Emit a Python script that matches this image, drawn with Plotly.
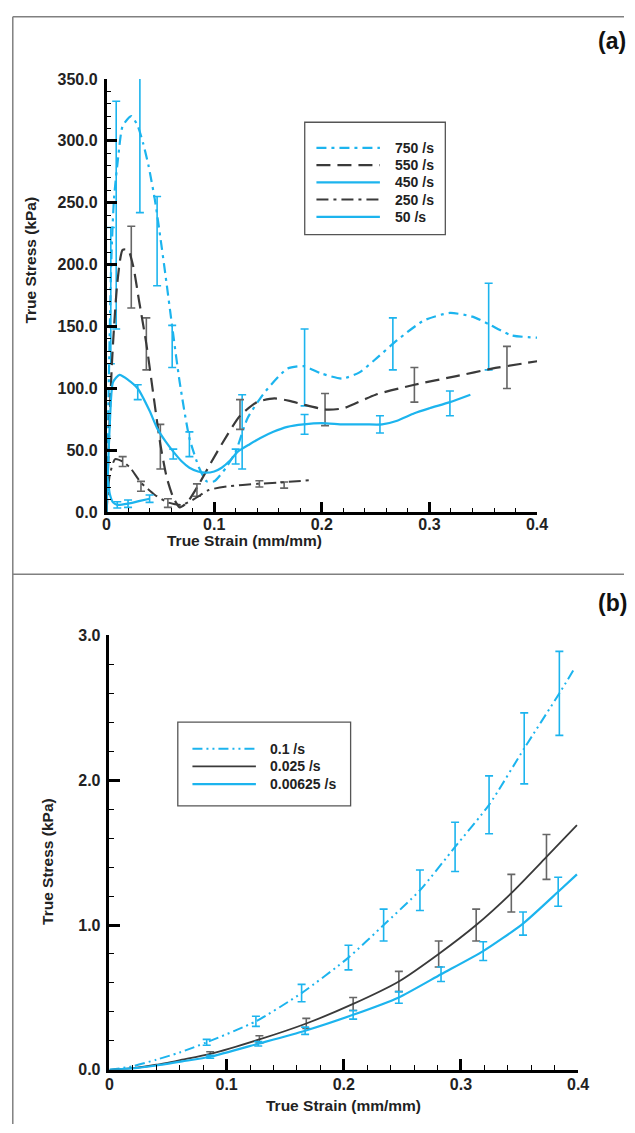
import plotly.graph_objects as go

W, H = 635, 1133
CYAN = "#1cb4ee"
DARK = "#3a3a3a"
EBAR = "#666666"

# ---------------- Panel (a) data ----------------
x750 = [0, 0.0045, 0.007, 0.011, 0.015, 0.023, 0.029, 0.034, 0.039, 0.045, 0.05, 0.055, 0.061, 0.068, 0.077,
        0.086, 0.093, 0.1, 0.111, 0.12, 0.131, 0.147, 0.168, 0.183, 0.2, 0.219, 0.235, 0.249, 0.27, 0.295,
        0.319, 0.34, 0.355, 0.376, 0.4]
y750 = [0, 205, 254, 288, 312, 320, 312, 298, 280, 252, 222, 190, 150, 105, 60,
        36, 25, 25, 36, 49, 76, 97, 116, 118, 112, 108, 113, 123, 139, 155,
        161, 158, 152, 143, 141]
bx750 = [0.004, 0.009, 0.031, 0.047, 0.061, 0.077, 0.126, 0.184, 0.266, 0.355]
by750 = [175, 240, 297, 219, 134, 55, 65, 117, 136, 150]
be750 = [55, 92, 55, 36, 17, 10, 30, 31, 21, 35]

x550 = [0, 0.005, 0.01, 0.015, 0.02, 0.025, 0.03, 0.037, 0.044, 0.05, 0.056, 0.062, 0.068, 0.075, 0.086,
        0.097, 0.107, 0.124, 0.14, 0.156, 0.17, 0.183, 0.204, 0.22, 0.25, 0.286, 0.325, 0.358, 0.4]
y550 = [0, 120, 185, 212, 212, 198, 172, 136, 92, 55, 28, 12, 4, 8, 23,
        40, 55, 78, 89, 92, 90, 87, 83, 84, 95, 103, 110, 116, 122]
bx550 = [0.023, 0.037, 0.05, 0.124, 0.203, 0.286, 0.372]
by550 = [198, 136, 53, 79, 83, 103, 117]
be550 = [33, 21, 18, 12, 13, 14, 17]

x450 = [0, 0.003, 0.006, 0.012, 0.02, 0.029, 0.04, 0.047, 0.055, 0.062, 0.07, 0.077, 0.085, 0.092, 0.1,
        0.107, 0.115, 0.122, 0.133, 0.143, 0.155, 0.168, 0.183, 0.2, 0.22, 0.24, 0.256, 0.27, 0.286, 0.3,
        0.319, 0.338]
y450 = [0, 70, 105, 111, 107, 100, 82, 68, 57, 49, 41, 36, 33, 32, 33,
        36, 42, 49, 55, 60, 65, 69, 71, 72, 71, 71, 71, 74, 80, 84,
        89, 95]
bx450 = [0.029, 0.062, 0.12, 0.184, 0.254, 0.319]
by450 = [97, 47, 45, 71, 71, 88]
be450 = [6, 4, 6, 8, 7, 10]

x250 = [0, 0.003, 0.008, 0.015, 0.022, 0.032, 0.045, 0.057, 0.07, 0.082, 0.095, 0.113, 0.14, 0.16, 0.19]
y250 = [0, 30, 43, 41, 36, 24, 14, 8, 6, 11, 18, 21, 23, 24, 26]
bx250 = [0.015, 0.032, 0.057, 0.084, 0.142, 0.165]
by250 = [41, 21, 7.5, 18, 23, 22]
be250 = [4, 4, 3.5, 5, 2.5, 2.5]

x50 = [0, 0.001, 0.003, 0.006, 0.01, 0.02, 0.03, 0.04]
y50 = [0, 28, 15, 8, 6, 7, 9, 11]
bx50 = [0.01, 0.02, 0.04]
by50 = [6, 7, 11]
be50 = [2.5, 3, 3]

# ---------------- Panel (b) data ----------------
x01 = [0, 0.02, 0.04, 0.06, 0.083, 0.125, 0.164, 0.204, 0.234, 0.265, 0.295, 0.324, 0.354, 0.384, 0.396]
y01 = [0, 0.025, 0.07, 0.12, 0.19, 0.335, 0.53, 0.775, 1.0, 1.24, 1.54, 1.83, 2.22, 2.6, 2.76]
bx01 = [0.083, 0.125, 0.164, 0.204, 0.234, 0.265, 0.295, 0.324, 0.354, 0.384]
by01 = [0.19, 0.335, 0.53, 0.775, 1.0, 1.24, 1.54, 1.83, 2.22, 2.6]
be01 = [0.02, 0.035, 0.06, 0.085, 0.11, 0.14, 0.17, 0.2, 0.245, 0.29]

x025 = [0, 0.02, 0.04, 0.062, 0.086, 0.128, 0.168, 0.208, 0.247, 0.281, 0.313, 0.343, 0.373, 0.399]
y025 = [0, 0.012, 0.035, 0.07, 0.11, 0.21, 0.32, 0.455, 0.61, 0.80, 1.0, 1.22, 1.47, 1.69]
bx025 = [0.086, 0.128, 0.168, 0.208, 0.247, 0.281, 0.313, 0.343, 0.373]
by025 = [0.11, 0.21, 0.32, 0.455, 0.61, 0.80, 1.0, 1.22, 1.47]
be025 = [0.015, 0.025, 0.035, 0.045, 0.07, 0.09, 0.11, 0.13, 0.155]

x00625 = [0, 0.02, 0.04, 0.062, 0.086, 0.127, 0.167, 0.208, 0.247, 0.283, 0.319, 0.353, 0.383, 0.399]
y00625 = [0, 0.01, 0.03, 0.058, 0.09, 0.18, 0.27, 0.38, 0.50, 0.66, 0.82, 1.01, 1.23, 1.35]
bx00625 = [0.086, 0.127, 0.167, 0.208, 0.247, 0.283, 0.319, 0.353, 0.383]
by00625 = [0.09, 0.18, 0.27, 0.38, 0.50, 0.66, 0.82, 1.01, 1.23]
be00625 = [0.01, 0.015, 0.025, 0.03, 0.04, 0.05, 0.065, 0.08, 0.1]

legend_a = ["750 /s", "550 /s", "450 /s", "250 /s", "50 /s"]
legend_b = ["0.1 /s", "0.025 /s", "0.00625 /s"]

FONT = "Liberation Sans"

fig = go.Figure()


def add_series(x, y, bx, by, be, name, color, dash, width, xa, ya, bar_color):
    fig.add_trace(go.Scatter(x=bx, y=by, mode="markers", marker=dict(size=0.1, color=bar_color, opacity=0),
                             error_y=dict(type="data", array=be, color=bar_color, thickness=1.6, width=4),
                             xaxis=xa, yaxis=ya, showlegend=False, hoverinfo="skip"))
    fig.add_trace(go.Scatter(x=x, y=y, mode="lines", name=name, showlegend=False,
                             line=dict(color=color, dash=dash, width=width, shape="spline", smoothing=0.6),
                             xaxis=xa, yaxis=ya))


styles_a = [(CYAN, "10px,5px,3px,5px", 2.2, CYAN), (DARK, "14px,7px", 2.2, EBAR), (CYAN, "solid", 2.2, CYAN),
            (DARK, "12px,5px,3px,5px", 2.0, EBAR), (CYAN, "solid", 2.2, CYAN)]
series_a = [(x750, y750, bx750, by750, be750), (x550, y550, bx550, by550, be550),
            (x450, y450, bx450, by450, be450), (x250, y250, bx250, by250, be250),
            (x50, y50, bx50, by50, be50)]
for (xs, ys, bxs, bys, bes), name, (c, d, w, bc) in zip(series_a, legend_a, styles_a):
    add_series(xs, ys, bxs, bys, bes, name, c, d, w, "x", "y", bc)

styles_b = [(CYAN, "10px,4px,2px,4px,2px,4px", 2.0, CYAN), (DARK, "solid", 1.8, EBAR), (CYAN, "solid", 2.2, CYAN)]
series_b = [(x01, y01, bx01, by01, be01), (x025, y025, bx025, by025, be025),
            (x00625, y00625, bx00625, by00625, be00625)]
for (xs, ys, bxs, bys, bes), name, (c, d, w, bc) in zip(series_b, legend_b, styles_b):
    add_series(xs, ys, bxs, bys, bes, name, c, d, w, "x2", "y2", bc)


def px(v):
    return v / W


def py(v):
    return 1 - v / H


tickfont = dict(family=FONT, size=16, color="#222", weight="bold")
minor_common = dict(ticks="inside", ticklen=5, tickwidth=1.3, tickcolor="black", showgrid=False)
axis_common = dict(showline=True, linecolor="black", linewidth=2.5, ticks="inside", ticklen=11, tickwidth=2.5,
                   tickcolor="black", showgrid=False, zeroline=False, tickfont=tickfont)

xt = [0, 0.1, 0.2, 0.3, 0.4]
xtt = ["0", "0.1", "0.2", "0.3", "0.4"]

fig.update_layout(
    width=W, height=H, autosize=False,
    margin=dict(l=0, r=0, t=0, b=0),
    paper_bgcolor="white", plot_bgcolor="white",
    showlegend=False,
    xaxis=dict(axis_common, domain=[px(105), px(546)], range=[0, 0.4], tickvals=xt, ticktext=xtt,
               anchor="y", ticklabelstandoff=-4, minor=dict(minor_common, dtick=0.02, tick0=0)),
    yaxis=dict(axis_common, domain=[py(512), py(72)], range=[0, 350], dtick=50, tickformat=".1f",
               anchor="x", ticklabelstandoff=3, minor=dict(minor_common, dtick=10, tick0=0)),
    xaxis2=dict(axis_common, domain=[px(108), px(588)], range=[0, 0.4], tickvals=xt, ticktext=xtt,
                anchor="y2", ticklabelstandoff=-2, minor=dict(minor_common, dtick=0.02, tick0=0)),
    yaxis2=dict(axis_common, domain=[py(1078), py(637)], range=[0, 3.0], dtick=1.0, tickformat=".1f",
                anchor="x2", ticklabelstandoff=3, minor=dict(minor_common, dtick=0.2, tick0=0)),
)

ann_font = dict(family=FONT, size=15.5, color="#222", weight="bold")


def ann(text, x, y, **kw):
    fig.add_annotation(text=text, x=px(x), y=py(y), xref="paper", yref="paper", showarrow=False,
                       xanchor=kw.pop("xanchor", "center"), yanchor=kw.pop("yanchor", "middle"), **kw)


ann("True Stress (kPa)", 27, 256, textangle=-90, font=ann_font)
ann("True Strain (mm/mm)", 246, 541, font=ann_font)
ann("True Stress (kPa)", 44, 866, textangle=-90, font=ann_font)
ann("True Strain (mm/mm)", 348, 1114, font=ann_font)
ann("(a)", 606, 34, xanchor="left", font=dict(family=FONT, size=23, color="#111", weight="bold"))
ann("(b)", 606, 604, xanchor="left", font=dict(family=FONT, size=23, color="#111", weight="bold"))

# frame lines of the two panels
frame = dict(color="#808080", width=1.5)
fig.add_shape(type="line", xref="paper", yref="paper", x0=px(9), x1=1, y0=py(9), y1=py(9), line=frame)
fig.add_shape(type="line", xref="paper", yref="paper", x0=px(9), x1=px(9), y0=py(9), y1=0, line=frame)
fig.add_shape(type="line", xref="paper", yref="paper", x0=px(9), x1=1, y0=py(575), y1=py(575), line=frame)

# legend boxes (drawn like the original plotting package)
leg_font = dict(family=FONT, size=14, color="#222", weight="bold")
box = dict(color="#555", width=1.3)
fig.add_shape(type="rect", xref="paper", yref="paper", x0=px(308), x1=px(452), y0=py(116), y1=py(230),
              line=box, fillcolor="white", layer="below")
for i, (name, (c, d, w, bc)) in enumerate(zip(legend_a, styles_a)):
    yy = 142 + i * 17.5
    fig.add_shape(type="line", xref="paper", yref="paper", x0=px(320), x1=px(385), y0=py(yy), y1=py(yy),
                  line=dict(color=c, dash=d, width=w))
    ann(name, 398, yy, xanchor="left", font=leg_font)

fig.add_shape(type="rect", xref="paper", yref="paper", x0=px(178), x1=px(355), y0=py(725), y1=py(810),
              line=box, fillcolor="white", layer="below")
for i, (name, (c, d, w, bc)) in enumerate(zip(legend_b, styles_b)):
    yy = 752 + i * 18
    fig.add_shape(type="line", xref="paper", yref="paper", x0=px(193), x1=px(258), y0=py(yy), y1=py(yy),
                  line=dict(color=c, dash=d, width=w))
    ann(name, 270, yy, xanchor="left", font=leg_font)

fig.write_html("out.html")
